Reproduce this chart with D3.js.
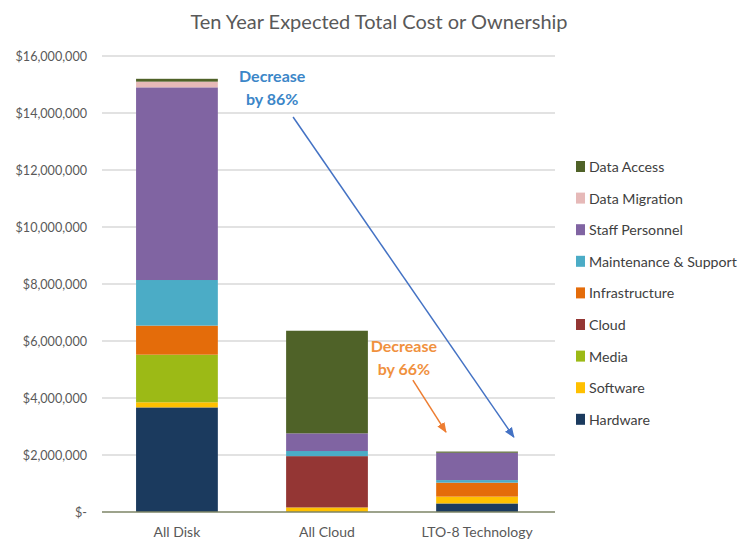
<!DOCTYPE html>
<html><head><meta charset="utf-8">
<script src="https://cdn.jsdelivr.net/npm/d3@7"></script>
<style>body{margin:0;background:#fff;} text{font-family:Lato,"Open Sans",sans-serif;}</style>
</head><body>
<svg id="c" width="748" height="544"></svg>
<script>
const categories = ["All Disk", "All Cloud", "LTO-8 Technology"];
const seriesNames = ["Hardware","Software","Media","Cloud","Infrastructure","Maintenance & Support","Staff Personnel","Data Migration","Data Access"];
const hardware    = [3670000, 0, 300000];
const software    = [180000, 160000, 240000];
const media       = [1670000, 0, 0];
const cloud       = [0, 1800000, 0];
const infrastructure = [1020000, 0, 490000];
const maintenance = [1600000, 180000, 90000];
const staff       = [6760000, 620000, 960000];
const migration   = [200000, 0, 0];
const access      = [100000, 3600000, 40000];
const seriesValues = [hardware, software, media, cloud, infrastructure, maintenance, staff, migration, access];
const colors = ["#1b3a5e","#ffc000","#9cba16","#943634","#e46c0a","#4bacc6","#8064a2","#e6b9b8","#4f6228"];
const yTicks = [0,2000000,4000000,6000000,8000000,10000000,12000000,14000000,16000000];
const title = "Ten Year Expected Total Cost or Ownership";

const svg = d3.select("#c");
const x = d3.scaleBand().domain(categories).range([102, 552]).paddingInner(0.455).paddingOuter(0.227);
const y = d3.scaleLinear().domain([0, 16000000]).range([512, 56]);

// grid
svg.append("g").selectAll("line").data(yTicks.filter(d=>d>0)).join("line")
  .attr("x1",102).attr("x2",555).attr("y1",d=>y(d)).attr("y2",d=>y(d))
  .attr("stroke","#d9d9d9").attr("stroke-width",1.3);

// y axis labels
const fmt = d => d===0 ? "$-" : "$" + d3.format(",")(d);
const yAxis = d3.axisLeft(y).tickValues(yTicks).tickFormat(fmt).tickSize(0).tickPadding(0);
const ga = svg.append("g").attr("transform","translate(87,0)").call(yAxis);
ga.select(".domain").remove();
ga.selectAll("text").attr("fill","#595959").style("font-size","12.6px").style("font-family","Lato");

// stacks
const rows = categories.map((c,i)=>{const o={cat:c}; seriesNames.forEach((s,j)=>o[s]=seriesValues[j][i]); return o;});
const stack = d3.stack().keys(seriesNames)(rows);
svg.append("g").selectAll("g").data(stack).join("g").attr("fill",(d,i)=>colors[i])
  .selectAll("rect").data(d=>d).join("rect")
  .attr("x",d=>x(d.data.cat)).attr("width",x.bandwidth())
  .attr("y",d=>y(d[1])).attr("height",d=>Math.max(0,y(d[0])-y(d[1])));

// baseline
svg.append("line").attr("x1",102).attr("x2",555).attr("y1",y(0)).attr("y2",y(0))
  .attr("stroke","#7d8466").attr("stroke-width",1.5);

// x labels
const xAxis = d3.axisBottom(x).tickSize(0).tickPadding(0);
const gx = svg.append("g").attr("transform","translate(0,527)").call(xAxis);
gx.select(".domain").remove();
gx.selectAll("text").attr("fill","#595959").style("font-size","14px").style("font-family","Lato").attr("dy","0.71em");

// title
svg.append("text").attr("x",379).attr("y",29).attr("text-anchor","middle")
  .attr("fill","#595959").style("font-size","20px").text(title);

// legend
const legendOrder = seriesNames.map((s,i)=>({s, c:colors[i]})).reverse();
const lg = svg.append("g").selectAll("g").data(legendOrder).join("g")
  .attr("transform",(d,i)=>`translate(576,${167 + i*31.6})`);
lg.append("rect").attr("x",0).attr("y",-6).attr("width",9).attr("height",11).attr("fill",d=>d.c);
lg.append("text").attr("x",13).attr("y",5).attr("fill","#404040").style("font-size","14.2px").text(d=>d.s);

// annotations
const defs = svg.append("defs");
function marker(id,col){
  defs.append("marker").attr("id",id).attr("viewBox","0 0 10 10").attr("refX",9).attr("refY",5)
    .attr("markerWidth",7).attr("markerHeight",7).attr("orient","auto")
    .append("path").attr("d","M0,1 L10,5 L0,9 Z").attr("fill",col);
}
marker("mb","#4472c4"); marker("mo","#ed7d31");
const annotations = [
  {from:["All Cloud",0.085,13860000], to:["LTO-8 Technology",0.95,2630000], col:"#4472c4", m:"mb",
   text:["Decrease","by 86%"], tx:["All Cloud",-0.17,15080000], tc:"#3b86c8"},
  {from:["All Cloud",1.55,4630000], to:["LTO-8 Technology",0.12,2800000], col:"#ed7d31", m:"mo",
   text:["Decrease","by 66%"], tx:["All Cloud",1.44,5600000], tc:"#f0913e"}
];
annotations.forEach(a=>{
  svg.append("line")
    .attr("x1",x(a.from[0])+a.from[1]*x.bandwidth()).attr("y1",y(a.from[2]))
    .attr("x2",x(a.to[0])+a.to[1]*x.bandwidth()).attr("y2",y(a.to[2]))
    .attr("stroke",a.col).attr("stroke-width",1.5).attr("marker-end",`url(#${a.m})`);
  const t = svg.append("text").attr("text-anchor","middle").attr("fill",a.tc)
    .style("font-size","16px").style("font-weight","bold")
    .attr("x",x(a.tx[0])+a.tx[1]*x.bandwidth()).attr("y",y(a.tx[2]));
  a.text.forEach((s,i)=>t.append("tspan").attr("x",x(a.tx[0])+a.tx[1]*x.bandwidth()).attr("dy",i?23:0).text(s));
});
</script>
</body></html>
